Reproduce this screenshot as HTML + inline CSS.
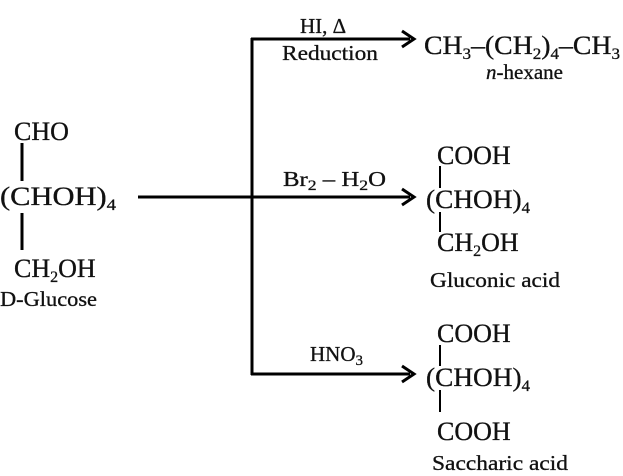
<!DOCTYPE html>
<html><head><style>
html,body{margin:0;padding:0;background:#fff;}
svg{display:block;}
text{font-family:"Liberation Serif",serif;fill:#111;stroke:#111;stroke-width:0.3;}
.b{font-size:26px;}
.s{font-size:21px;}
</style></head><body>
<svg width="623" height="476" viewBox="0 0 623 476" xmlns="http://www.w3.org/2000/svg">
<g stroke="#000" stroke-width="3" fill="none">
<line x1="252" y1="38" x2="252" y2="375"/>
<line x1="251" y1="39" x2="410" y2="39"/>
<line x1="138" y1="197" x2="410" y2="197"/>
<line x1="251" y1="374" x2="410" y2="374"/>
<polyline points="402,31 414,39 402,47"/>
<polyline points="402,189 414,197 402,205"/>
<polyline points="402,366 414,374 402,382"/>
<line x1="22" y1="143" x2="22" y2="181"/>
<line x1="22" y1="213" x2="22" y2="250"/>
</g>
<g stroke="#000" stroke-width="2">
<line x1="440" y1="166" x2="440" y2="188"/>
<line x1="440" y1="212" x2="440" y2="232"/>
<line x1="440" y1="345" x2="440" y2="366"/>
<line x1="440" y1="390" x2="440" y2="412"/>
</g>
<text class="s" x="300" y="33">HI, Δ</text>
<text class="s" x="282" y="60" textLength="96" lengthAdjust="spacingAndGlyphs">Reduction</text>
<text class="b" x="424" y="54" textLength="196" lengthAdjust="spacingAndGlyphs">CH<tspan font-size="16" dy="5">3</tspan><tspan dy="-5">–(CH</tspan><tspan font-size="16" dy="5">2</tspan><tspan dy="-5">)</tspan><tspan font-size="16" dy="5">4</tspan><tspan dy="-5">–CH</tspan><tspan font-size="16" dy="5">3</tspan></text>
<text class="s" x="486" y="79"><tspan font-style="italic">n</tspan>-hexane</text>
<text class="b" x="14" y="140">CHO</text>
<text class="b" x="0" y="205" textLength="116" lengthAdjust="spacingAndGlyphs">(CHOH)<tspan font-size="16" dy="5">4</tspan></text>
<text class="b" x="14" y="277">CH<tspan font-size="16" dy="5">2</tspan><tspan dy="-5">OH</tspan></text>
<text class="s" x="0" y="306" textLength="97" lengthAdjust="spacingAndGlyphs">D-Glucose</text>
<text class="s" x="283" y="186" textLength="103" lengthAdjust="spacingAndGlyphs">Br<tspan font-size="15" dy="4">2</tspan><tspan dy="-4"> – H</tspan><tspan font-size="15" dy="4">2</tspan><tspan dy="-4">O</tspan></text>
<text class="b" x="437" y="164">COOH</text>
<text class="b" x="426" y="208" textLength="104" lengthAdjust="spacingAndGlyphs">(CHOH)<tspan font-size="16" dy="5">4</tspan></text>
<text class="b" x="437" y="251">CH<tspan font-size="16" dy="5">2</tspan><tspan dy="-5">OH</tspan></text>
<text class="s" x="430" y="287" textLength="130" lengthAdjust="spacingAndGlyphs">Gluconic acid</text>
<text class="s" x="310" y="361">HNO<tspan font-size="15" dy="4">3</tspan></text>
<text class="b" x="437" y="342">COOH</text>
<text class="b" x="426" y="386" textLength="104" lengthAdjust="spacingAndGlyphs">(CHOH)<tspan font-size="16" dy="5">4</tspan></text>
<text class="b" x="437" y="440">COOH</text>
<text class="s" x="432" y="470" textLength="136" lengthAdjust="spacingAndGlyphs">Saccharic acid</text>
</svg>
</body></html>
